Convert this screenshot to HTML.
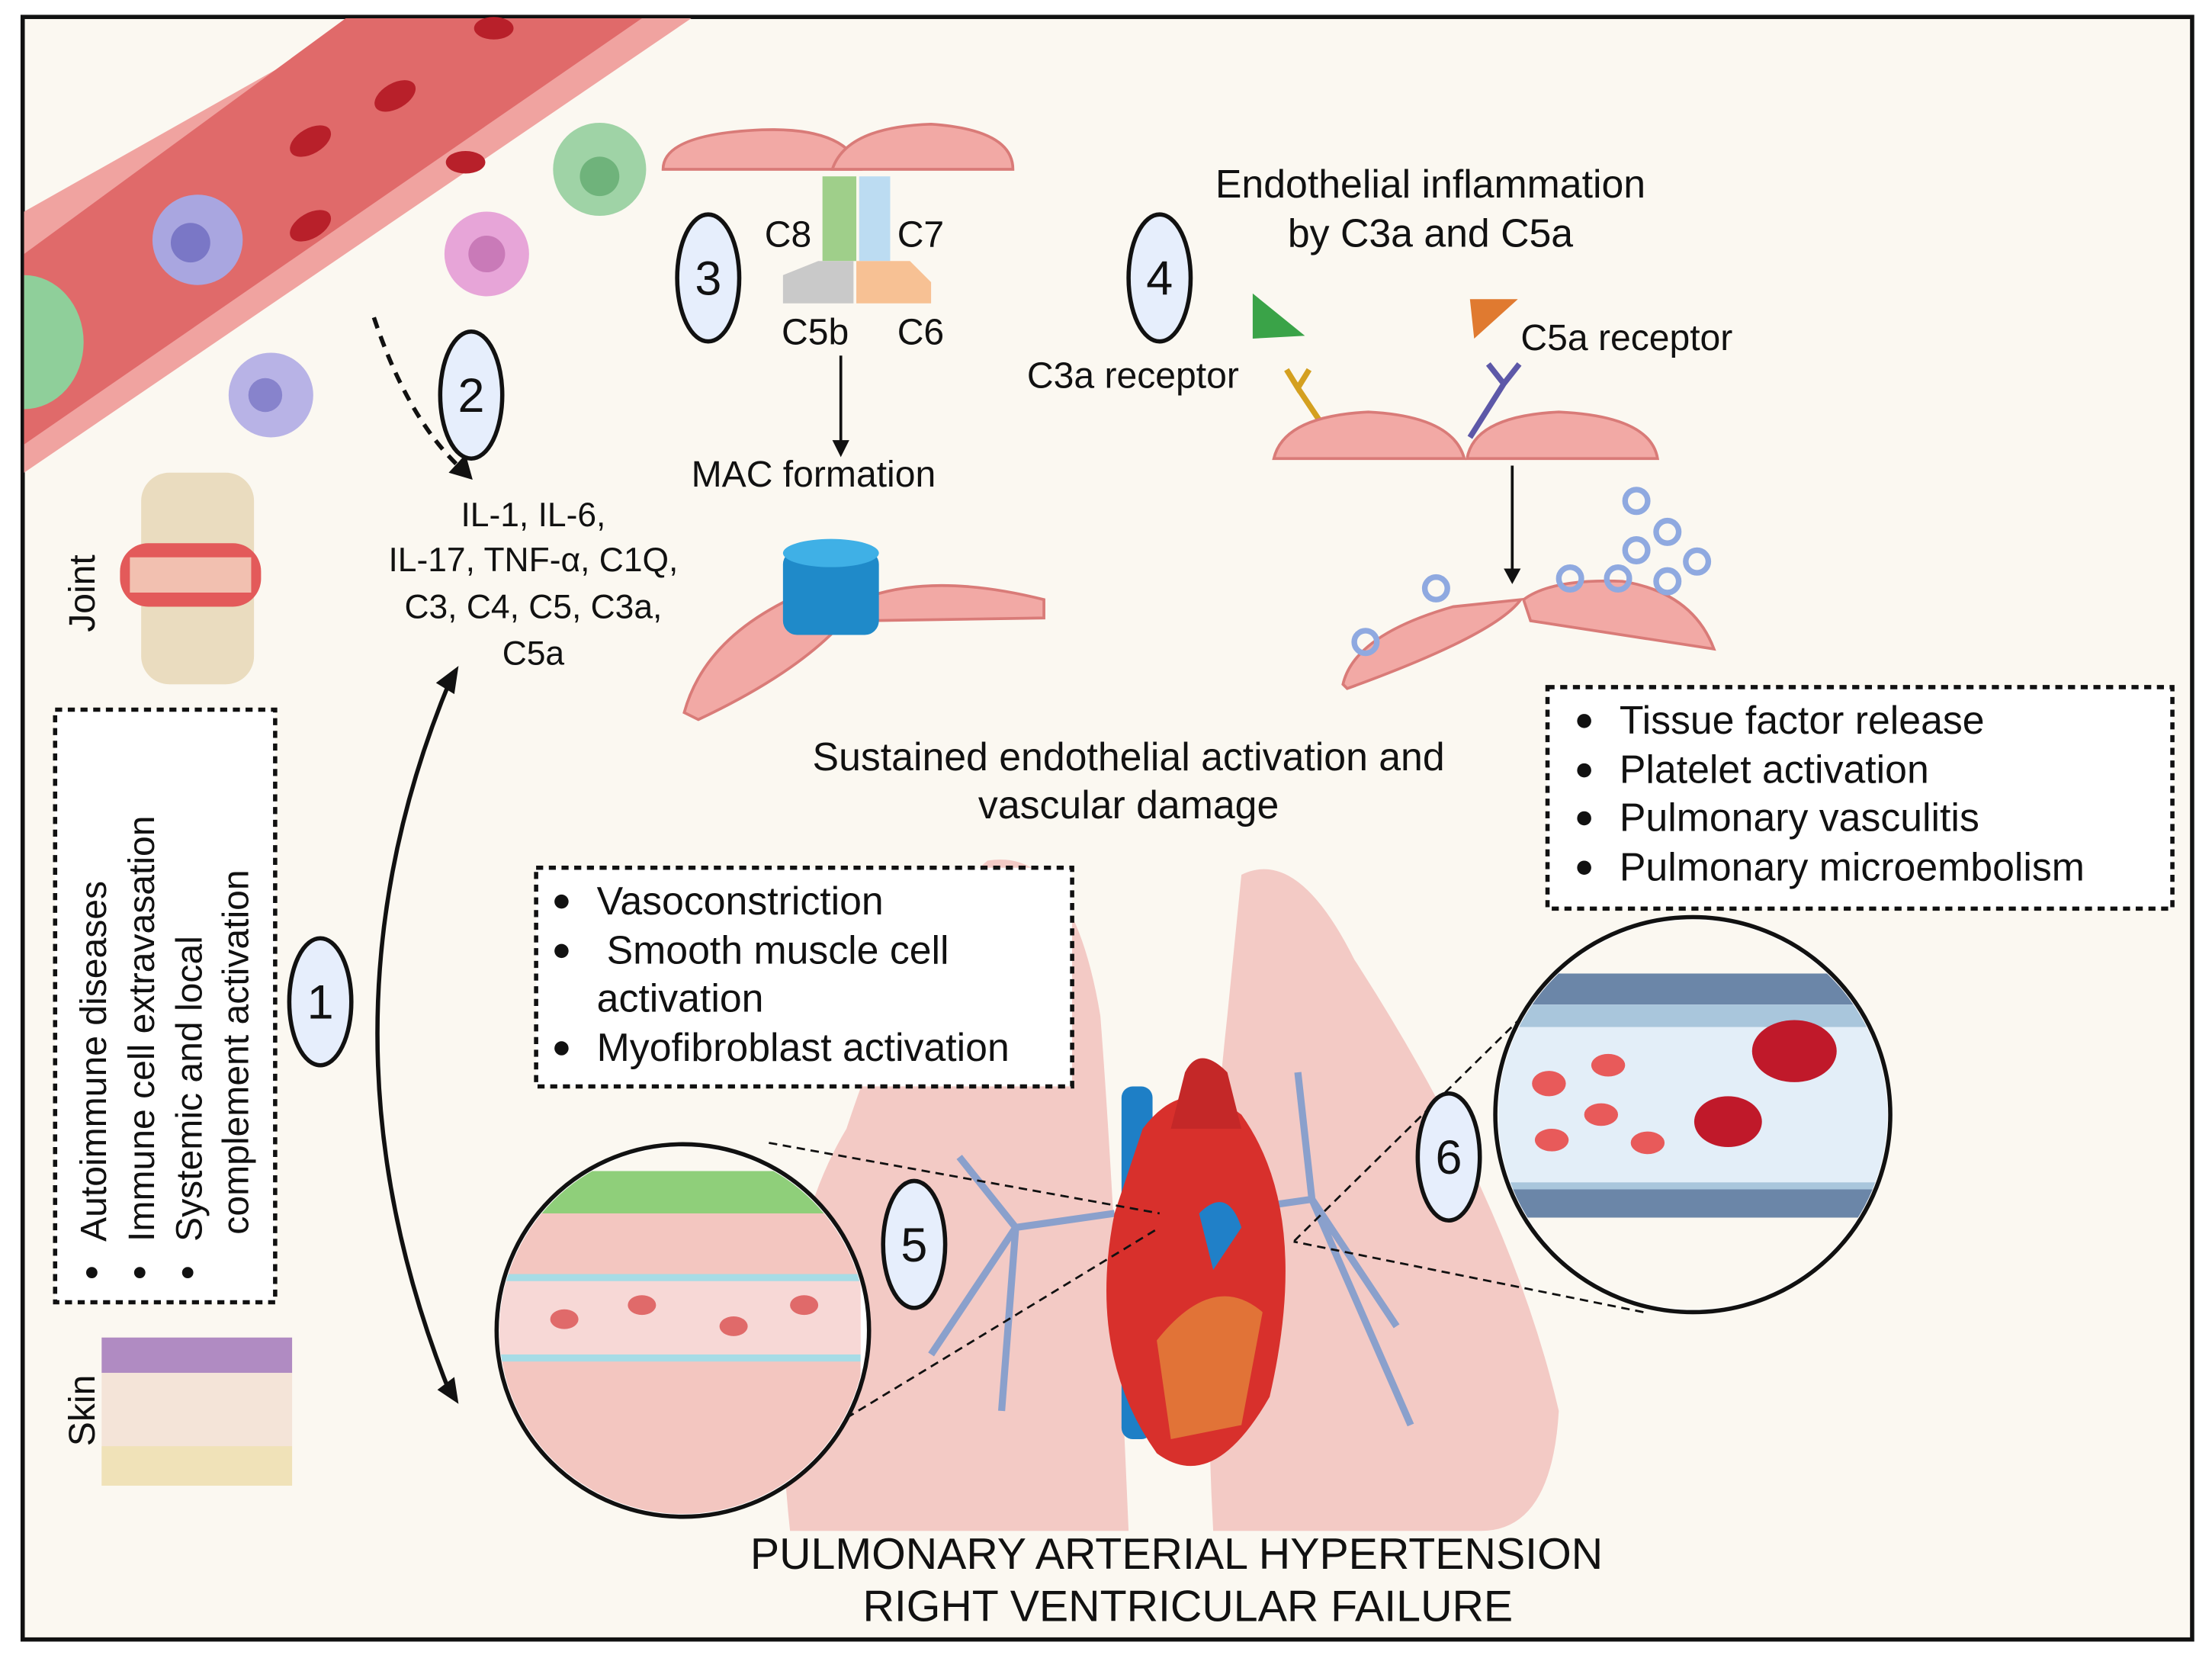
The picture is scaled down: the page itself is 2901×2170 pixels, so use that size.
<!DOCTYPE html>
<html><head><meta charset="utf-8"><style>
html,body{margin:0;padding:0;background:#fff}
svg{display:block}
text{font-family:"Liberation Sans",sans-serif;fill:#111}
</style></head><body>
<svg width="2901" height="2170" viewBox="0 0 1568 1173" xmlns="http://www.w3.org/2000/svg">
<rect x="0" y="0" width="1568" height="1173" fill="#fff"/>
<rect x="16" y="12" width="1538" height="1150" fill="#fbf8f1" stroke="#111" stroke-width="3"/>
<!-- vessel -->
<polygon points="17,150 260,13 490,13 17,335" fill="#f0a3a0"/>
<polygon points="17,180 245,13 455,13 17,315" fill="#e06a6a"/>
<g fill="#b8202a"><ellipse cx="220" cy="100" rx="16" ry="9" transform="rotate(-30 220 100)"/><ellipse cx="280" cy="68" rx="16" ry="9" transform="rotate(-30 280 68)"/><ellipse cx="220" cy="160" rx="16" ry="9" transform="rotate(-30 220 160)"/><ellipse cx="350" cy="20" rx="14" ry="8"/><ellipse cx="330" cy="115" rx="14" ry="8"/></g>
<path d="M17,195 A40,45 0 0 1 17,290Z" fill="#8fcf9a"/>
<circle cx="140" cy="170" r="32" fill="#a9a6e0"/><circle cx="135" cy="172" r="14" fill="#7a77c6"/>
<circle cx="192" cy="280" r="30" fill="#b8b3e6"/><circle cx="188" cy="280" r="12" fill="#8783cc"/>
<circle cx="345" cy="180" r="30" fill="#e7a5d8"/><circle cx="345" cy="180" r="13" fill="#c97ab8"/>
<circle cx="425" cy="120" r="33" fill="#9fd3a6"/><circle cx="425" cy="125" r="14" fill="#6fb37b"/>
<!-- joint & skin -->
<rect x="100" y="335" width="80" height="150" rx="20" fill="#eadcbf"/>
<rect x="85" y="385" width="100" height="45" rx="20" fill="#e35a5a"/>
<rect x="92" y="395" width="86" height="25" fill="#f2c0b0"/>
<rect x="72" y="948" width="135" height="105" fill="#f4e4d8"/>
<rect x="72" y="948" width="135" height="25" fill="#b08bc2"/>
<rect x="72" y="1025" width="135" height="28" fill="#f0e2b8"/>
<text transform="translate(67,448) rotate(-90)" font-size="26">Joint</text>
<text transform="translate(67,1025) rotate(-90)" font-size="26">Skin</text>
<rect x="39" y="503" width="156" height="420" fill="#fff" stroke="#111" stroke-width="3" stroke-dasharray="5,4"/>
<g font-size="26"><text transform="translate(75,880) rotate(-90)">Autoimmune diseases</text><text transform="translate(109,880) rotate(-90)">Immune cell extravasation</text><text transform="translate(143,880) rotate(-90)">Systemic and local</text><text transform="translate(176,875) rotate(-90)">complement activation</text></g>
<g fill="#111"><circle cx="65" cy="902" r="4"/><circle cx="99" cy="902" r="4"/><circle cx="133" cy="902" r="4"/></g>
<!-- arrows -->
<path d="M265,225 Q290,300 330,335" fill="none" stroke="#111" stroke-width="3" stroke-dasharray="8,6"/>
<polygon points="335,340 318,335 330,322" fill="#111"/>
<path d="M320,480 Q215,730 320,990" fill="none" stroke="#111" stroke-width="3"/>
<polygon points="325,472 322,492 309,484" fill="#111"/><polygon points="325,995 310,985 322,976" fill="#111"/>
<g font-size="24" text-anchor="middle"><text x="378" y="373">IL-1, IL-6,</text><text x="378" y="405">IL-17, TNF-α, C1Q,</text><text x="378" y="438">C3, C4, C5, C3a,</text><text x="378" y="471">C5a</text></g>
<!-- MAC -->
<g fill="#f2a9a5" stroke="#d97b78" stroke-width="2"><path d="M470,120 Q470,95 540,92 Q600,90 610,120Z"/><path d="M590,120 Q600,90 660,88 Q718,92 718,120Z"/>
<path d="M485,505 Q500,450 570,420 L610,425 Q580,470 495,510Z"/><path d="M610,425 Q660,405 740,425 L740,438 L610,440Z"/></g>
<rect x="583" y="125" width="24" height="60" fill="#9fcf8a"/><rect x="609" y="125" width="22" height="60" fill="#bcdcf2"/>
<polygon points="555,195 580,185 605,185 605,215 555,215" fill="#c9c9c9"/><polygon points="607,185 645,185 660,200 660,215 607,215" fill="#f7c194"/>
<g font-size="26"><text x="542" y="175">C8</text><text x="636" y="175">C7</text><text x="554" y="244">C5b</text><text x="636" y="244">C6</text><text x="490" y="345">MAC formation</text></g>
<line x1="596" y1="252" x2="596" y2="315" stroke="#111" stroke-width="2"/><polygon points="590,312 602,312 596,324" fill="#111"/>
<rect x="555" y="390" width="68" height="60" rx="10" fill="#1f8ac9"/><ellipse cx="589" cy="392" rx="34" ry="10" fill="#3fb0e6"/>
<text x="800" y="546" font-size="28" text-anchor="middle">Sustained endothelial activation and</text>
<text x="800" y="580" font-size="28" text-anchor="middle">vascular damage</text>
<!-- section 4 -->
<text x="1014" y="140" font-size="28" text-anchor="middle">Endothelial inflammation</text>
<text x="1014" y="175" font-size="28" text-anchor="middle">by C3a and C5a</text>
<polygon points="888,208 925,238 888,240" fill="#3aa348"/><polygon points="1042,212 1076,212 1045,240" fill="#e07a30"/>
<text x="728" y="275" font-size="26">C3a receptor</text><text x="1078" y="248" font-size="26">C5a receptor</text>
<path d="M912,262 L920,275 L928,262 M920,275 L940,305" stroke="#d4a020" stroke-width="4" fill="none"/>
<path d="M1055,258 L1066,272 L1077,258 M1066,272 L1042,310" stroke="#5d58a8" stroke-width="4" fill="none"/>
<g fill="#f2a9a5" stroke="#d97b78" stroke-width="2"><path d="M903,325 Q910,295 970,292 Q1030,295 1038,325Z"/><path d="M1040,325 Q1045,295 1105,292 Q1170,295 1175,325Z"/>
<path d="M952,485 Q960,450 1030,430 L1078,425 Q1060,450 955,488Z"/><path d="M1080,425 Q1100,410 1150,412 Q1200,420 1215,460 L1085,440Z"/></g>
<line x1="1072" y1="330" x2="1072" y2="405" stroke="#111" stroke-width="2"/><polygon points="1066,403 1078,403 1072,414" fill="#111"/>
<g fill="none" stroke="#8fa9e0" stroke-width="4"><circle cx="1160" cy="355" r="8"/><circle cx="1182" cy="377" r="8"/><circle cx="1160" cy="390" r="8"/><circle cx="1203" cy="398" r="8"/><circle cx="1182" cy="412" r="8"/><circle cx="1147" cy="410" r="8"/><circle cx="1113" cy="410" r="8"/><circle cx="1018" cy="417" r="8"/><circle cx="968" cy="455" r="8"/></g>
<rect x="1097" y="487" width="443" height="157" fill="#fff" stroke="#111" stroke-width="3" stroke-dasharray="5,4"/>
<g font-size="28"><text x="1148" y="520">Tissue factor release</text><text x="1148" y="555">Platelet activation</text><text x="1148" y="589">Pulmonary vasculitis</text><text x="1148" y="624">Pulmonary microembolism</text></g>
<g fill="#111"><circle cx="1123" cy="511" r="5"/><circle cx="1123" cy="546" r="5"/><circle cx="1123" cy="580" r="5"/><circle cx="1123" cy="615" r="5"/></g>
<!-- lungs -->
<path d="M700,610 Q760,600 780,720 Q790,850 800,1085 L560,1085 Q540,900 600,800 Q650,650 700,610Z" fill="#f2c4c0" opacity="0.9"/>
<path d="M880,620 Q920,600 960,680 Q1070,850 1105,1000 Q1100,1085 1050,1085 L860,1085 Q850,900 870,720Z" fill="#f2c4c0" opacity="0.9"/>
<g stroke="#8aa0cc" stroke-width="5" fill="none"><path d="M790,860 L720,870 L660,960 M720,870 L680,820 M720,870 L710,1000"/><path d="M860,860 L930,850 L990,940 M930,850 L920,760 M930,850 L1000,1010"/></g>
<rect x="795" y="770" width="22" height="250" rx="8" fill="#1e7fc6"/>
<path d="M810,800 Q840,760 880,790 Q930,860 900,990 Q860,1060 820,1030 Q770,960 790,860Z" fill="#d8302c"/>
<path d="M840,760 Q850,740 870,760 L880,800 L830,800Z" fill="#c42828"/>
<path d="M850,860 Q870,840 880,870 L860,900Z" fill="#2080c8"/>
<path d="M820,950 Q860,900 895,930 L880,1010 L830,1020Z" fill="#e8a040" opacity="0.6"/>
<rect x="380" y="615" width="380" height="155" fill="#fff" stroke="#111" stroke-width="3" stroke-dasharray="5,4"/>
<g font-size="28"><text x="423" y="648">Vasoconstriction</text><text x="430" y="683">Smooth muscle cell</text><text x="423" y="717">activation</text><text x="423" y="752">Myofibroblast activation</text></g>
<g fill="#111"><circle cx="398" cy="639" r="5"/><circle cx="398" cy="674" r="5"/><circle cx="398" cy="743" r="5"/></g>
<!-- circle 5 -->
<g stroke="#111" stroke-width="1.5" stroke-dasharray="6,4"><line x1="545" y1="810" x2="822" y2="860"/><line x1="600" y1="1005" x2="822" y2="870"/><line x1="1100" y1="700" x2="917" y2="880"/><line x1="1165" y1="930" x2="917" y2="880"/></g>
<circle cx="484" cy="943" r="132" fill="#fff" stroke="#111" stroke-width="3"/>
<clipPath id="c5"><circle cx="484" cy="943" r="130"/></clipPath>
<g clip-path="url(#c5)"><rect x="350" y="810" width="260" height="70" fill="#fbf8f1"/><rect x="350" y="830" width="260" height="35" fill="#8fcf7a"/><rect x="350" y="860" width="260" height="220" fill="#f3c6c0"/><rect x="350" y="905" width="260" height="55" fill="#f7d8d6"/><rect x="350" y="903" width="260" height="5" fill="#a7dce6"/><rect x="350" y="960" width="260" height="5" fill="#a7dce6"/>
<g fill="#e06a6a"><ellipse cx="400" cy="935" rx="10" ry="7"/><ellipse cx="455" cy="925" rx="10" ry="7"/><ellipse cx="520" cy="940" rx="10" ry="7"/><ellipse cx="570" cy="925" rx="10" ry="7"/></g></g>
<!-- circle 6 -->
<circle cx="1200" cy="790" r="140" fill="#fff" stroke="#111" stroke-width="3"/>
<clipPath id="c6"><circle cx="1200" cy="790" r="138"/></clipPath>
<g clip-path="url(#c6)"><rect x="1060" y="650" width="290" height="40" fill="#fbf8f1"/><rect x="1060" y="690" width="290" height="22" fill="#6b86a8"/><rect x="1060" y="712" width="290" height="16" fill="#a9c6dc"/><rect x="1060" y="728" width="290" height="110" fill="#e3eef8"/><rect x="1060" y="838" width="290" height="22" fill="#a9c6dc"/><rect x="1060" y="843" width="290" height="20" fill="#6b86a8"/><rect x="1060" y="863" width="290" height="70" fill="#fbf8f1"/>
<g fill="#e85a5a"><ellipse cx="1098" cy="768" rx="12" ry="9"/><ellipse cx="1140" cy="755" rx="12" ry="8"/><ellipse cx="1135" cy="790" rx="12" ry="8"/><ellipse cx="1100" cy="808" rx="12" ry="8"/><ellipse cx="1168" cy="810" rx="12" ry="8"/></g>
<ellipse cx="1272" cy="745" rx="30" ry="22" fill="#c0192a"/><ellipse cx="1225" cy="795" rx="24" ry="18" fill="#c0192a"/></g>
<!-- number circles -->
<g fill="#e6eefc" stroke="#111" stroke-width="3">
<ellipse cx="227" cy="710" rx="22" ry="45"/><ellipse cx="334" cy="280" rx="22" ry="45"/><ellipse cx="502" cy="197" rx="22" ry="45"/><ellipse cx="822" cy="197" rx="22" ry="45"/><ellipse cx="648" cy="882" rx="22" ry="45"/><ellipse cx="1027" cy="820" rx="22" ry="45"/></g>
<g font-size="34" text-anchor="middle"><text x="227" y="722">1</text><text x="334" y="292">2</text><text x="502" y="209">3</text><text x="822" y="209">4</text><text x="648" y="894">5</text><text x="1027" y="832">6</text></g>
<text x="834" y="1112" font-size="31" text-anchor="middle">PULMONARY ARTERIAL HYPERTENSION</text>
<text x="842" y="1149" font-size="31" text-anchor="middle">RIGHT VENTRICULAR FAILURE</text>
</svg>
</body></html>
